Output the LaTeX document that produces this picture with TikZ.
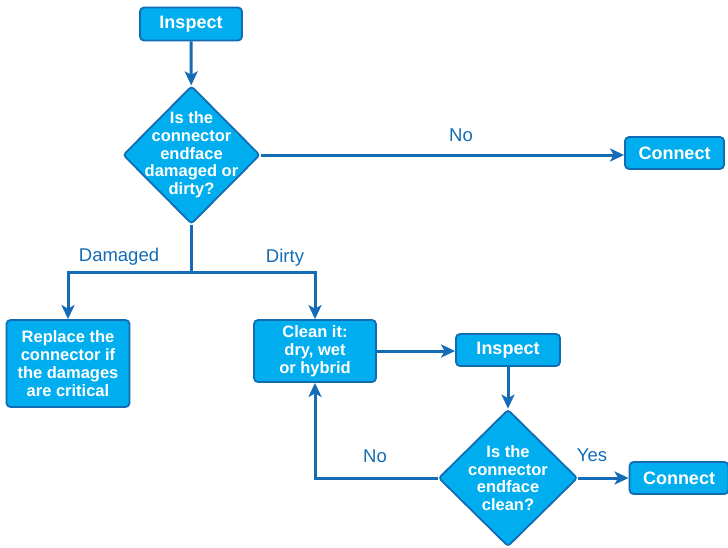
\documentclass[tikz,border=0pt]{standalone}
\usepackage{fontspec}
\setmainfont{Liberation Sans}
\usetikzlibrary{shapes.geometric,arrows.meta}
\definecolor{boxfill}{RGB}{0,174,239}
\definecolor{boxline}{RGB}{18,108,180}
\definecolor{flowblue}{RGB}{20,108,182}
\begin{document}
\begin{tikzpicture}[x=1pt,y=-1pt,
    every node/.style={inner sep=0pt},
    stepbox/.style={draw=boxline,fill=boxfill,line width=1.8pt,rounded corners=4pt,
        text=white,font=\bfseries\fontsize{16.5}{18}\selectfont,align=center},
    titlebox/.style={stepbox,font=\bfseries\fontsize{18}{20}\selectfont},
    question/.style={diamond,draw=boxline,fill=boxfill,line width=1.8pt,rounded corners=3pt,
        label={[text=white,font=\bfseries\fontsize{16.5}{17.7}\selectfont,align=center]center:#1}},
    flow/.style={draw=flowblue,line width=3pt},
    arrow/.style={flow,-{Stealth[length=14pt,width=13pt,inset=3.5pt]}},
    answer/.style={text=flowblue,font=\fontsize{18.5}{20}\selectfont}]
\useasboundingbox (0,0) rectangle (728,547);
% boxes and questions
\node[titlebox,minimum width=102pt,minimum height=33pt] (inspecttop) at (191,24) {Inspect};
\node[question={Is the\\connector\\endface\\damaged or\\dirty?},minimum width=137pt,minimum height=138pt] (damagedq) at (191.5,155) {};
\node[titlebox,minimum width=99pt,minimum height=32pt] (connecttop) at (674.5,153) {Connect};
\node[stepbox,minimum width=123pt,minimum height=87pt] (replace) at (68,363.5) {Replace the\\connector if\\the damages\\are critical};
\node[stepbox,minimum width=122pt,minimum height=62pt] (clean) at (315,351) {Clean it:\\dry, wet\\or hybrid};
\node[titlebox,minimum width=104pt,minimum height=32pt] (inspectlow) at (508,350) {Inspect};
\node[question={Is the\\connector\\endface\\clean?},minimum width=139pt,minimum height=137pt] (cleanq) at (508,478) {};
\node[titlebox,minimum width=99pt,minimum height=32pt] (connectlow) at (679,478) {Connect};
\coordinate (split) at (191.5,272);
% answers
\node[answer] (nolabeltop) at (461,135) {No};
\node[answer] (damagedlabel) at (119,257) {Damaged};
\node[answer] (dirtylabel) at (285,258) {Dirty};
\node[answer] (yeslabel) at (592,455) {Yes};
\node[answer] (nolabellow) at (375,456) {No};
% connectors
\draw[arrow] (inspecttop) -- (damagedq);
\draw[arrow] (damagedq.east) -- (damagedq.east -| connecttop.west);
\draw[flow] (damagedq.south) -- (split);
\draw[arrow] (split) -| (replace.north);
\draw[arrow] (split) -| (clean.north);
\draw[arrow] (clean.east) -- (clean.east -| inspectlow.west);
\draw[arrow] (inspectlow) -- (cleanq);
\draw[arrow] (cleanq.east) -- (connectlow.west);
\draw[arrow] (cleanq.west) -| (clean.south);
\end{tikzpicture}
\end{document}
